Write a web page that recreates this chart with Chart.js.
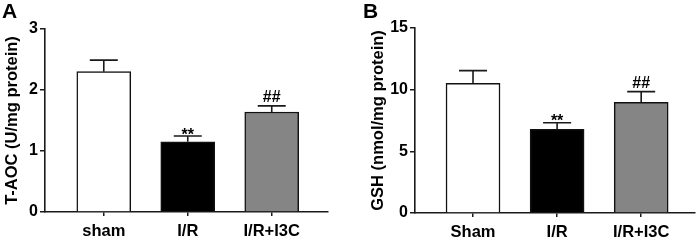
<!DOCTYPE html>
<html>
<head>
<meta charset="utf-8">
<script src="https://cdn.jsdelivr.net/npm/chart.js@4/dist/chart.umd.min.js"></script>
<style>
  html, body { margin: 0; padding: 0; background: #fff; }
  #wrap { position: relative; width: 699px; height: 240px; overflow: hidden; }
  .panel { position: absolute; top: 0; height: 240px; }
  .letter { position: absolute; top: 0; font: bold 21px "Liberation Sans", Arial, sans-serif; color: #000; line-height: 21px; }
</style>
</head>
<body>
<div id="wrap">
  <div class="panel" style="left:0;width:350px;"><canvas id="cA" width="350" height="240"></canvas></div>
  <div class="panel" style="left:350px;width:349px;"><canvas id="cB" width="349" height="240"></canvas></div>
  <div class="letter" style="left:2px;">A</div>
  <div class="letter" style="left:363px;">B</div>
</div>
<script>
// ---- data ----
const categoriesA = ['sham', 'I/R', 'I/R+I3C'];
const categoriesB = ['Sham', 'I/R', 'I/R+I3C'];
const taocMean = [2.30, 1.15, 1.64];
const taocErr = [0.19, 0.095, 0.10];
const gshMean = [10.52, 6.79, 8.98];
const gshErr = [1.02, 0.53, 0.86];
const marksA = ['', '**', '##'];
const marksB = ['', '**', '##'];
const yTitleA = 'T-AOC (U/mg protein)';
const yTitleB = 'GSH (nmol/mg protein)';
const yMaxA = 3, yStepA = 1;
const yMaxB = 15, yStepB = 5;

Chart.defaults.font.family = '"Liberation Sans", Arial, sans-serif';
Chart.defaults.color = '#000';

const AXIS = '#1a1a1a';

const errPlugin = {
  id: 'errPlugin',
  afterDatasetsDraw(chart, args, opts) {
    const ctx = chart.ctx;
    const xs = chart.scales.x, ys = chart.scales.y;
    ctx.save();
    ctx.strokeStyle = AXIS;
    ctx.lineWidth = 1.6;
    opts.means.forEach((m, i) => {
      const x = xs.getPixelForValue(i + 1);
      const y0 = ys.getPixelForValue(m);
      const y1 = ys.getPixelForValue(m + opts.errs[i]);
      ctx.beginPath();
      ctx.moveTo(x, y0);
      ctx.lineTo(x, y1);
      ctx.moveTo(x - 14, y1);
      ctx.lineTo(x + 14, y1);
      ctx.stroke();
      const mk = opts.marks[i];
      if (mk) {
        ctx.fillStyle = '#000';
        ctx.font = 'bold 16px "Liberation Sans", Arial, sans-serif';
        ctx.textAlign = 'center';
        ctx.textBaseline = 'alphabetic';
        const off = mk === '**' ? 3.5 : -4;
        ctx.fillText(mk, x, y1 + off);
      }
    });
    ctx.restore();
  }
};

function makeChart(id, cats, means, errs, marks, title, yMax, yStep, cfg) {
  return new Chart(document.getElementById(id), {
    type: 'bar',
    data: {
      datasets: [{
        data: means.map((v, i) => ({ x: i + 1, y: v })),
        backgroundColor: ['#ffffff', '#000000', '#858585'],
        borderColor: '#111',
        borderWidth: 1.5,
        barThickness: 54
      }]
    },
    plugins: [errPlugin],
    options: {
      responsive: false,
      animation: false,
      events: [],
      layout: { padding: { left: cfg.padLeft, top: cfg.padTop, right: cfg.padRight, bottom: 0 } },
      plugins: {
        legend: { display: false },
        tooltip: { enabled: false },
        errPlugin: { means: means, errs: errs, marks: marks }
      },
      scales: {
        x: {
          type: 'linear',
          min: cfg.xMin, max: cfg.xMax,
          offset: false,
          afterBuildTicks: (s) => { s.ticks = cats.map((c, i) => ({ value: i + 1 })); },
          afterFit: (s) => { s.height = cfg.xHeight; },
          ticks: {
            callback: (v) => cats[v - 1],
            font: { size: 16.5, weight: 'bold' },
            padding: 6,
            maxRotation: 0,
            autoSkip: false
          },
          grid: { display: true, drawOnChartArea: false, offset: false, tickLength: 4, color: AXIS, lineWidth: 1.5 },
          border: { display: true, color: AXIS, width: 1.6 }
        },
        y: {
          min: 0, max: yMax,
          afterFit: (s) => { s.width = cfg.yWidth; },
          ticks: { stepSize: yStep, font: { size: 16, weight: 'bold' }, padding: 2 },
          grid: { display: true, drawOnChartArea: false, tickLength: 5, color: AXIS, lineWidth: 1.5 },
          border: { display: true, color: AXIS, width: 1.6 },
          title: { display: true, text: title, font: { size: 16.5, weight: 'bold' }, padding: { top: 2.6, bottom: 0 } }
        }
      }
    }
  });
}

makeChart('cA', categoriesA, taocMean, taocErr, marksA, yTitleA, yMaxA, yStepA,
  { padLeft: 0, padTop: 29, padRight: 22, yWidth: 45, xHeight: 28, xMin: 0.30, xMax: 3.67 });
makeChart('cB', categoriesB, gshMean, gshErr, marksB, yTitleB, yMaxB, yStepB,
  { padLeft: 16, padTop: 28, padRight: 4, yWidth: 49, xHeight: 27, xMin: 0.31, xMax: 3.64 });
</script>
</body>
</html>
